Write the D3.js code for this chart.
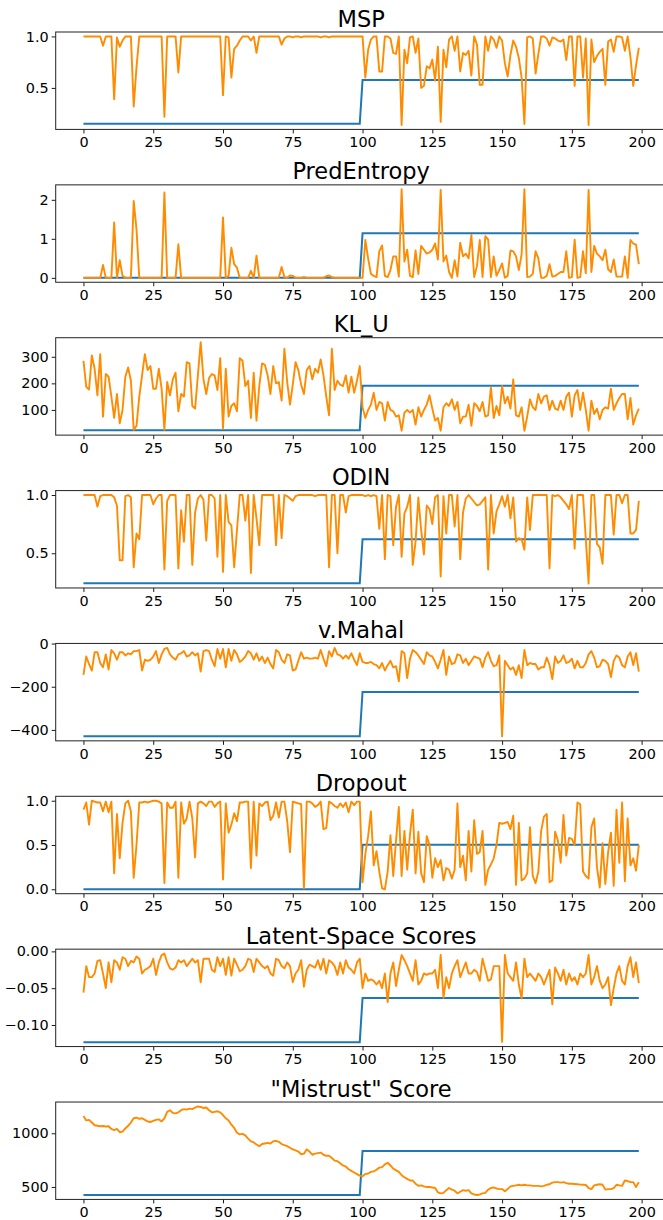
<!DOCTYPE html>
<html>
<head>
<meta charset="utf-8">
<script src="https://cdn.jsdelivr.net/npm/d3@7"></script>
<style>
  body { margin: 0; background: #fff; }
  svg { display: block; font-family: "DejaVu Sans", sans-serif; }
</style>
</head>
<body>
<div id="chart"></div>
<script>
// x ticks shared by all panels
var xTicks = [0, 25, 50, 75, 100, 125, 150, 175, 200];

// orange series (score per sample), 200 samples each
var mspScores = [
  1,1,1,1,1,1,1,0.91,1,1, 1,0.39,0.99,0.9,0.96,1,1,1,0.32,0.7,
  1,1,1,1,1,1,1,1,1,0.22, 1,1,1,1,0.65,1,1,1,1,1,
  1,1,1,1,1,1,1,1,1,1, 0.43,1,0.99,0.6,0.88,0.91,0.96,1,1,1,
  0.96,1,0.84,1,1,1,1,1,1,1, 1,0.92,0.98,1,1,0.99,1,1,0.99,1,
  1,1,1,1,1,0.99,1,1,0.99,1, 1,1,1,1,1,1,1,1,1,1,
  1,0.6,0.87,0.97,1,1,0.66,0.66,1,1, 0.98,0.84,0.83,1,0.14,0.87,0.74,0.99,1,0.84,
  0.98,0.5,0.52,0.71,0.69,0.775,0.57,0.9,0.17,0.87, 0.7,0.97,1,0.86,1,0.66,0.84,0.82,0.86,0.62,
  1,0.92,0.53,0.53,1,0.86,1,0.97,0.89,1, 0.96,0.74,0.61,0.82,0.96,0.9,0.79,0.6,0.15,0.99,
  1,0.98,0.64,0.83,1,1,0.98,0.91,0.99,0.98, 0.96,0.95,0.97,0.77,1,1,0.52,1,1,0.6,
  0.98,0.14,0.97,0.75,0.81,0.85,0.88,0.53,0.95,0.97, 0.85,1,1,0.99,0.86,1,0.8,0.52,0.72,0.89
];
var entropyScores = [
  0,0,0,0,0,0,0,0.33,0,0, 0,1.42,0,0.45,0.05,0,0,0,1.97,1.25,
  0,0,0,0,0,0,0,0,0,2.19, 0,0,0,0,0.86,0,0,0,0,0,
  0,0,0,0,0,0,0,0,0,0, 1.55,0,0.05,0.77,0.35,0.26,0,0,0,0,
  0.18,0,0.57,0,0,0,0,0,0,0, 0,0.28,0.02,0,0.06,0.05,0,0,0,0.02,
  0,0,0,0,0,0,0,0.04,0.06,0.02, 0,0,0,0,0,0,0,0,0,0,
  0,0.97,0.5,0.1,0.05,0.02,0.68,0.83,0.05,0.02, 0.2,0.55,0.55,0.03,2.27,0.42,0.72,0.05,0.02,0.7,
  0.1,0.82,0.72,0.62,0.65,0.72,0.88,0.47,2.25,0.42, 0.57,0.15,0,0.45,0.03,0.9,0.55,0.62,0.5,1.1,
  0.02,0.3,0.97,0.02,1.07,0.98,0.02,0.55,0.05,0.2, 0.37,0,0.05,0.7,0.68,0.55,0.2,0.6,2.27,0.02,
  0.03,0.1,0.68,0.5,0,0,0.05,0.35,0.03,0.05, 0.1,0.15,0.15,0.68,0,0.02,0.98,0,0.02,0.68,
  0.12,2.25,0.15,0.82,0.62,0.55,0.45,0.72,0.22,0.15, 0.47,0.03,0.03,0.03,0.55,0,0.97,0.88,0.85,0.35
];
var klScores = [
  285,187,177,305,255,155,310,75,235,225, 150,70,160,50,100,225,260,210,25,40,
  150,230,310,250,265,180,180,255,180,25, 205,155,215,240,95,160,150,280,275,115,
  105,230,355,215,160,220,235,230,175,295, 30,255,75,115,125,95,295,285,190,210,
  70,240,60,190,275,270,230,160,265,200, 205,135,330,205,120,195,280,250,195,160,
  250,265,215,255,240,290,230,150,80,330, 175,210,195,190,230,165,225,165,210,265,
  110,70,100,120,165,100,130,125,60,130, 100,95,75,80,22,90,100,90,100,45,
  110,75,100,120,155,105,60,70,22,110, 125,115,140,100,130,50,75,75,120,40,
  125,115,95,130,75,80,185,70,115,80, 190,125,150,105,215,80,75,110,22,75,
  140,110,100,160,125,150,155,100,135,105, 100,135,100,150,165,75,155,175,100,165,
  100,22,135,85,105,65,100,110,105,180, 100,125,145,160,160,65,145,45,80,105
];
var odinScores = [
  1,1,1,1,1,0.9,0.99,1,1,1, 1,0.98,0.91,0.44,0.44,0.99,1,0.98,0.38,0.67,
  0.62,1,1,1,1,0.92,0.97,1,1,0.36, 0.95,1,1,1,0.37,0.87,0.6,1,1,0.4,
  0.85,0.97,1,0.96,0.61,1,1,0.97,0.47,1, 0.34,1,0.77,0.74,0.38,0.7,1,1,0.78,1,
  0.33,1,0.8,0.57,1,1,1,1,1,0.57, 1,0.63,1,0.99,0.97,0.95,0.99,1,1,1,
  1,1,1,0.99,1,1,1,1,0.38,1, 1,0.5,1,1,0.85,0.99,1,1,1,1,
  1,0.99,1,0.99,1,0.99,0.71,1,0.45,1, 0.99,0.57,0.9,1,0.47,0.84,0.9,1,0.4,0.6,
  0.98,0.7,0.49,0.91,0.88,0.75,0.98,1,0.3,0.99, 0.67,1,1,0.73,1,0.45,0.85,0.97,1,0.97,
  0.94,0.91,0.92,0.95,0.98,0.36,1,0.67,0.86,0.92, 0.99,0.9,1,0.8,0.98,0.6,0.63,0.62,0.53,0.98,
  0.7,1,1,1,1,1,1,0.37,1,0.99, 1,0.98,0.95,0.92,0.88,1,0.54,1,1,1,
  0.62,0.24,1,1,0.58,0.55,0.41,1,1,1, 0.66,1,1,0.93,1,1,0.67,0.67,0.7,0.95
];
var mahalScores = [
  -145,-60,-95,-125,-40,-40,-90,-110,-50,-120, -30,-45,-75,-40,-40,-55,-45,-50,-35,-35,
  -30,-125,-75,-80,-75,-60,-35,-90,-50,-25, -20,-50,-65,-75,-50,-45,-35,-60,-55,-40,
  -55,-45,-130,-35,-30,-35,-75,-105,-25,-70, -25,-110,-25,-80,-30,-50,-85,-75,-60,-35,
  -45,-75,-45,-80,-60,-90,-65,-95,-115,-30, -40,-75,-90,-50,-55,-125,-120,-80,-40,-70,
  -65,-70,-70,-65,-70,-30,-70,-105,-35,-60, -20,-50,-55,-70,-55,-70,-45,-75,-100,-45,
  -85,-90,-90,-85,-95,-100,-115,-90,-125,-100, -80,-110,-105,-175,-35,-45,-160,-70,-30,-40,
  -55,-75,-95,-40,-55,-60,-85,-115,-75,-30, -145,-60,-95,-90,-50,-55,-90,-70,-100,-80,
  -60,-65,-70,-110,-65,-40,-80,-105,-100,-55, -430,-80,-100,-120,-110,-145,-100,-160,-30,-100,
  -90,-95,-95,-120,-110,-110,-65,-100,-165,-60, -90,-80,-55,-90,-85,-70,-115,-80,-110,-110,
  -90,-50,-35,-65,-110,-105,-75,-80,-95,-155, -80,-55,-65,-100,-110,-60,-40,-100,-45,-130
];
var dropoutScores = [
  0.9,0.98,0.73,1,0.99,0.98,0.98,0.88,0.99,0.87, 0.99,0.18,0.85,0.35,0.75,0.97,1,0.88,0.13,0.5,
  0.98,0.98,0.99,0.98,0.99,1,1,0.99,0.97,0.07, 0.98,0.92,0.92,0.99,0.13,0.98,0.74,0.8,0.99,0.8,
  0.36,0.97,0.99,0.97,0.94,0.99,0.99,0.93,0.97,0.99, 0.11,0.97,0.64,0.73,0.86,0.77,0.98,0.98,0.99,0.99,
  0.24,0.99,0.38,0.97,0.94,0.98,0.99,0.78,0.83,0.98, 0.81,0.99,0.99,0.77,0.42,0.99,0.98,0.97,0.96,0.01,
  0.99,0.99,0.97,0.93,0.95,0.99,0.68,0.69,0.99,0.97, 0.94,0.92,0.97,0.93,0.98,0.87,0.99,0.95,0.99,0.99,
  0.08,0.4,0.6,0.88,0.27,0.43,0.2,0.01,0,0.2, 0.61,0.15,0.55,0.93,0.15,0.66,0.22,0.62,0.9,0.18,
  0.65,0.18,0.08,0.6,0.5,0.13,0.35,0.25,0.33,0.1, 0.24,0.22,0.12,0.22,0.97,0.25,0.38,0.1,0.66,0.2,
  0.78,0.4,0.42,0.66,0.05,0.22,0.28,0.35,0.5,0.75, 0.74,0.75,0.76,0.68,0.83,0.05,0.75,0.1,0.12,0.18,
  0.7,0.15,0.07,0.2,0.66,0.82,0.85,0.08,0.1,0.65, 0.55,0.3,0.84,0.38,0.58,0.57,0.5,0.98,0.96,0.2,
  0.15,0.12,0.7,0.8,0.25,0.02,0.52,0.06,0.42,0.64, 0.04,0.9,0.3,0.98,0.09,0.8,0.27,0.35,0.21,0.5
];
var latentScores = [
  -0.056,-0.02,-0.035,-0.035,-0.03,-0.013,-0.012,-0.03,-0.05,-0.015,
  -0.042,-0.012,-0.015,-0.025,-0.008,-0.01,-0.02,-0.013,-0.015,-0.007,
  -0.01,-0.03,-0.025,-0.023,-0.02,-0.01,-0.032,-0.015,-0.005,-0.003,
  -0.015,-0.023,-0.025,-0.022,-0.012,-0.015,-0.012,-0.02,-0.015,-0.01,
  -0.015,-0.012,-0.042,-0.01,-0.01,-0.01,-0.025,-0.028,-0.008,-0.02,
  -0.01,-0.032,-0.008,-0.033,-0.01,-0.018,-0.027,-0.025,-0.02,-0.01,
  -0.012,-0.028,-0.01,-0.015,-0.02,-0.023,-0.02,-0.03,-0.033,-0.01,
  -0.012,-0.02,-0.023,-0.015,-0.02,-0.042,-0.03,-0.025,-0.012,-0.048,
  -0.025,-0.018,-0.02,-0.022,-0.012,-0.025,-0.01,-0.03,-0.012,-0.015,
  -0.02,-0.032,-0.015,-0.03,-0.012,-0.022,-0.025,-0.03,-0.015,-0.01,
  -0.05,-0.03,-0.04,-0.038,-0.04,-0.045,-0.04,-0.05,-0.03,-0.069,
  -0.03,-0.015,-0.047,-0.025,-0.005,-0.012,-0.02,-0.03,-0.04,-0.012,
  -0.045,-0.04,-0.03,-0.032,-0.03,-0.03,-0.025,-0.05,-0.005,-0.063,
  -0.035,-0.05,-0.03,-0.02,-0.012,-0.035,-0.025,-0.015,-0.03,-0.03,
  -0.025,-0.028,-0.04,-0.01,-0.025,-0.04,-0.038,-0.02,-0.02,-0.02,
  -0.123,-0.005,-0.03,-0.035,-0.04,-0.015,-0.045,-0.064,-0.01,-0.035,
  -0.03,-0.035,-0.04,-0.03,-0.035,-0.045,-0.035,-0.025,-0.072,-0.022,
  -0.03,-0.04,-0.025,-0.045,-0.03,-0.04,-0.035,-0.045,-0.03,-0.035,
  -0.03,-0.005,-0.045,-0.035,-0.02,-0.04,-0.05,-0.045,-0.035,-0.073,
  -0.05,-0.03,-0.02,-0.04,-0.045,-0.02,-0.008,-0.035,-0.015,-0.043
];
var mistrustScores = [
  1160,1120,1125,1100,1075,1070,1065,1068,1063,1065, 1040,1030,1040,1010,1015,1045,1070,1100,1140,1145,
  1135,1140,1125,1110,1105,1115,1125,1130,1110,1140, 1200,1215,1190,1185,1195,1215,1225,1220,1230,1225,
  1240,1250,1245,1235,1240,1215,1195,1200,1205,1195, 1170,1140,1120,1080,1050,1005,990,995,980,950,
  925,915,895,880,900,905,910,905,925,930, 920,900,890,880,865,850,840,830,805,810,
  850,830,800,810,815,820,800,790,790,770, 745,740,720,700,690,665,650,635,620,605,
  600,620,625,640,645,660,680,685,710,725, 700,670,655,640,610,590,575,560,560,530,
  510,515,505,500,500,495,490,450,440,445, 470,490,475,465,440,455,470,465,470,440,
  430,425,430,440,445,475,490,495,485,480, 480,460,480,505,510,515,520,515,520,515,
  515,510,510,510,505,510,520,525,540,545, 545,540,545,535,530,530,528,525,522,520,
  518,490,480,515,520,525,520,475,480,480, 490,520,515,510,560,555,545,545,500,545
];

// blue reference line: level for samples 0-99 and for 100-199
var mspRef = [0.152, 0.576];
var entropyRef = [0.0, 1.14];
var klRef = [24, 191];
var odinRef = [0.243, 0.62];
var mahalRef = [-429, -224];
var dropoutRef = [0.0, 0.504];
var latentRef = [-0.1233, -0.0632];
var mistrustRef = [426, 834];

// y tick values per panel
var mspTicks = [0.5, 1.0];
var entropyTicks = [0, 1, 2];
var klTicks = [100, 200, 300];
var odinTicks = [0.5, 1.0];
var mahalTicks = [0, -200, -400];
var dropoutTicks = [0, 0.5, 1.0];
var latentTicks = [0, -0.05, -0.10];
var mistrustTicks = [500, 1000];

var panels = [
  { title: "MSP", vals: mspScores, ref: mspRef, ticks: mspTicks, fmt: ".1f" },
  { title: "PredEntropy", vals: entropyScores, ref: entropyRef, ticks: entropyTicks, fmt: "d" },
  { title: "KL_U", vals: klScores, ref: klRef, ticks: klTicks, fmt: "d" },
  { title: "ODIN", vals: odinScores, ref: odinRef, ticks: odinTicks, fmt: ".1f" },
  { title: "v.Mahal", vals: mahalScores, ref: mahalRef, ticks: mahalTicks, fmt: "d" },
  { title: "Dropout", vals: dropoutScores, ref: dropoutRef, ticks: dropoutTicks, fmt: ".1f" },
  { title: "Latent-Space Scores", vals: latentScores, ref: latentRef, ticks: latentTicks, fmt: ".2f" },
  { title: "\"Mistrust\" Score", vals: mistrustScores, ref: mistrustRef, ticks: mistrustTicks, fmt: "d" }
];

var width = 663, height = 1220;
var left = 55.7, right = 666.6;
var top0 = 32, step = 152.86, ph = 97.4;

var svg = d3.select("#chart").append("svg")
  .attr("width", width)
  .attr("height", height);

// same x scale for every panel (matplotlib-like 5% margins)
var x = d3.scaleLinear().domain([-9.95, 208.95]).range([left, right]);

panels.forEach(function (p, i) {
  var top = top0 + i * step;
  var bottom = top + ph;

  // reference step line values, 100 + 100 samples
  var refLine = d3.range(200).map(function (k) { return k < 100 ? p.ref[0] : p.ref[1]; });

  var all = p.vals.concat(p.ref);
  var lo = d3.min(all), hi = d3.max(all);
  var pad = (hi - lo) * 0.05;
  var y = d3.scaleLinear().domain([lo - pad, hi + pad]).range([bottom, top]);

  var g = svg.append("g");

  var line = d3.line()
    .x(function (d, k) { return x(k); })
    .y(function (d) { return y(d); });

  g.append("path")
    .datum(refLine)
    .attr("fill", "none")
    .attr("stroke", "#1f77b4")
    .attr("stroke-width", 2)
    .attr("d", line);

  g.append("path")
    .datum(p.vals)
    .attr("fill", "none")
    .attr("stroke", "#ff8c00")
    .attr("stroke-width", 1.9)
    .attr("stroke-linejoin", "round")
    .attr("d", line);

  // axes
  var xAxis = g.append("g")
    .attr("transform", "translate(0," + bottom + ")")
    .call(d3.axisBottom(x).tickValues(xTicks).tickSize(4).tickPadding(3.5));
  var yAxis = g.append("g")
    .attr("transform", "translate(" + left + ",0)")
    .call(d3.axisLeft(y).tickValues(p.ticks).tickFormat(d3.format(p.fmt)).tickSize(4).tickPadding(3));

  [xAxis, yAxis].forEach(function (ax) {
    ax.select(".domain").remove();
    ax.selectAll("text").attr("font-size", "14.4px").attr("fill", "#000")
      .attr("font-family", "DejaVu Sans, sans-serif");
    ax.selectAll("line").attr("stroke", "#000").attr("stroke-width", 0.9);
  });

  // spines
  g.append("rect")
    .attr("x", left)
    .attr("y", top)
    .attr("width", right - left)
    .attr("height", ph)
    .attr("fill", "none")
    .attr("stroke", "#222")
    .attr("stroke-width", 1);

  g.append("text")
    .attr("x", (left + right) / 2)
    .attr("y", top - 5.5)
    .attr("text-anchor", "middle")
    .attr("font-size", "22.5px")
    .attr("fill", "#000")
    .text(p.title);
});
</script>
</body>
</html>
